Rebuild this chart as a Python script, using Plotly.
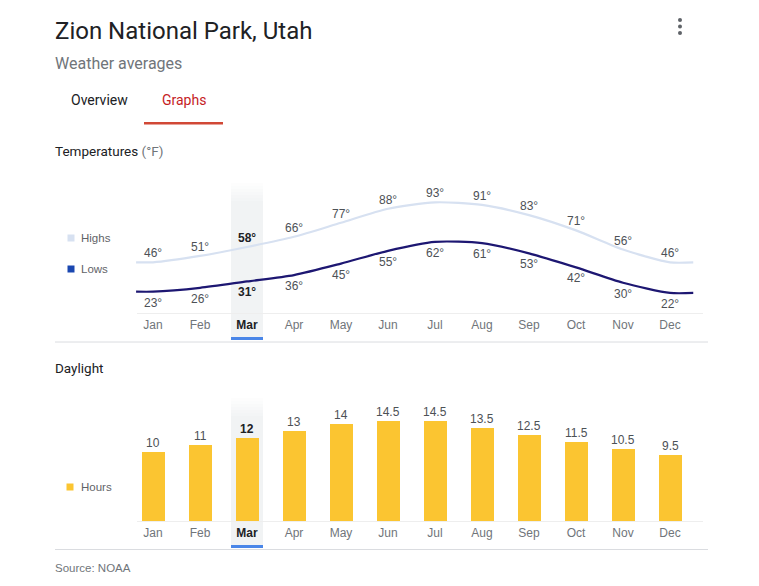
import plotly.graph_objects as go

# ---------------- data ----------------
months = ["Jan", "Feb", "Mar", "Apr", "May", "Jun", "Jul", "Aug", "Sep", "Oct", "Nov", "Dec"]
highs = [46, 51, 58, 66, 77, 88, 93, 91, 83, 71, 56, 46]
lows = [23, 26, 31, 36, 45, 55, 62, 61, 53, 42, 30, 22]
daylight_hours = [10, 11, 12, 13, 14, 14.5, 14.5, 13.5, 12.5, 11.5, 10.5, 9.5]
selected_month = "Mar"

title_text = "Zion National Park, Utah"
subtitle_text = "Weather averages"
tab_labels = ["Overview", "Graphs"]
source_text = "Source: NOAA"

# ---------------- layout helpers ----------------
# page body has an 8px margin; figure fills the rest of the 759x586 window
OFF = 8
W, H = 759 - OFF, 586 - OFF
def px(x):
    return (x - OFF) / W
def py(y):
    return 1 - (y - OFF) / H

FONT = "Roboto, Arial, sans-serif"
LABEL_FONT = "Arial, Liberation Sans, sans-serif"
GRAY = "#70757a"
DARK = "#202124"
VAL = "#4d5156"
HIGH_C = "#d7e1f1"
LOW_C = "#1d1772"
BAR_C = "#fbc531"

xs = list(range(len(months)))
sel = months.index(selected_month)

# x geometry (pixels): month i centred at 153 + 47*i
X_LEFT_PX, X_RIGHT_PX = 129.5, 693.5
x_range = [-0.5, 11.5]

# temperature y: 0 deg at 321px, 1.276 px / deg
T_TOP, T_BOT = 183, 313
t_range = [(321 - T_BOT) / 1.276, (321 - T_TOP) / 1.276]
# daylight y: 0 h at 521px, 6.9 px / h
D_TOP, D_BOT = 400, 521
d_range = [0, (D_BOT - D_TOP) / 6.9]

ticktext = [f"<span style='color:{DARK}'><b>{m}</b></span>" if m == selected_month else m for m in months]

fig = go.Figure()

# line extension beyond first/last month (style only)
ext_l, ext_r = -0.36, 11.5
fig.add_trace(go.Scatter(
    x=[ext_l] + xs + [ext_r], y=[highs[0]] + highs + [highs[-1]],
    mode="lines", line=dict(color=HIGH_C, width=2.2, shape="spline", smoothing=0.7),
    xaxis="x", yaxis="y", hoverinfo="skip", showlegend=False, cliponaxis=False))
fig.add_trace(go.Scatter(
    x=[ext_l] + xs + [ext_r], y=[lows[0]] + lows + [lows[-1]],
    mode="lines", line=dict(color=LOW_C, width=2.2, shape="spline", smoothing=0.7),
    xaxis="x", yaxis="y", hoverinfo="skip", showlegend=False, cliponaxis=False))

fig.add_trace(go.Bar(
    x=xs, y=daylight_hours, width=0.49, marker=dict(color=BAR_C, line=dict(width=0)),
    xaxis="x2", yaxis="y2", hoverinfo="skip", showlegend=False))

annotations = []
for i, (h, l) in enumerate(zip(highs, lows)):
    bold = i == sel
    annotations.append(dict(
        x=i, y=h, xref="x", yref="y", yshift=9, showarrow=False,
        text=f"<b>{h}°</b>" if bold else f"{h}°",
        font=dict(family=LABEL_FONT, size=12, color=DARK if bold else VAL)))
    annotations.append(dict(
        x=i, y=l, xref="x", yref="y", yshift=-11, showarrow=False,
        text=f"<b>{l}°</b>" if bold else f"{l}°",
        font=dict(family=LABEL_FONT, size=12, color=DARK if bold else VAL)))
for i, v in enumerate(daylight_hours):
    bold = i == sel
    t = f"{v:g}"
    annotations.append(dict(
        x=i, y=v, xref="x2", yref="y2", yshift=9, showarrow=False,
        text=f"<b>{t}</b>" if bold else t,
        font=dict(family=LABEL_FONT, size=12, color=DARK if bold else VAL)))

def txt(x, y, s, size, color, family=FONT, **kw):
    annotations.append(dict(x=px(x), y=py(y), xref="paper", yref="paper", text=s,
                            showarrow=False, xanchor="left", yanchor="middle",
                            font=dict(family=family, size=size, color=color), **kw))

txt(53, 31, title_text, 24, DARK)
txt(53, 63, subtitle_text, 16, GRAY)
txt(69, 100, tab_labels[0], 14, DARK)
txt(160, 100, tab_labels[1], 14, "#c5221f")
txt(53, 151, f"Temperatures <span style='color:{GRAY}'>(°F)</span>", 13.5, DARK)
txt(53, 368, "Daylight", 13.5, DARK)
txt(79, 238, "Highs", 11.5, "#5f6368", family=LABEL_FONT)
txt(79, 269, "Lows", 11.5, "#5f6368", family=LABEL_FONT)
txt(79, 487, "Hours", 11.5, "#5f6368", family=LABEL_FONT)
txt(53, 568, source_text, 11.5, GRAY, family=LABEL_FONT)

shapes = []
def rect(x0, y0, x1, y1, color, layer="below", opacity=1):
    shapes.append(dict(type="rect", xref="paper", yref="paper", x0=px(x0), x1=px(x1),
                       y0=py(y1), y1=py(y0), fillcolor=color, line=dict(width=0),
                       layer=layer, opacity=opacity))
def hline(x0, x1, y, color, width=1):
    shapes.append(dict(type="line", xref="paper", yref="paper", x0=px(x0), x1=px(x1),
                       y0=py(y), y1=py(y), line=dict(color=color, width=width), layer="below"))

# highlight band for selected month (x via axis)
def band(axis, top, bottom):
    fade = 18
    steps = 6
    for k in range(steps):
        y0 = top + k * fade / steps
        shapes.append(dict(type="rect", xref=axis, yref="paper", x0=sel - 0.34, x1=sel + 0.34,
                           y0=py(y0 + fade / steps), y1=py(y0), fillcolor="#f1f3f4",
                           line=dict(width=0), layer="below", opacity=(k + 1) / (steps + 1)))
    shapes.append(dict(type="rect", xref=axis, yref="paper", x0=sel - 0.34, x1=sel + 0.34,
                       y0=py(bottom), y1=py(top + fade), fillcolor="#f1f3f4",
                       line=dict(width=0), layer="below"))
    shapes.append(dict(type="rect", xref=axis, yref="paper", x0=sel - 0.34, x1=sel + 0.34,
                       y0=py(bottom + 3), y1=py(bottom), fillcolor="#4a86e8",
                       line=dict(width=0), layer="above"))

band("x", 183, 337)
band("x2", 398, 545)

hline(137, 703, 313.5, "#eeeeee")
hline(137, 703, 521.5, "#eeeeee")
hline(55, 708, 342, "#dadce0")
hline(55, 708, 549.5, "#dadce0")

# tab underline
rect(144, 122, 223, 124.5, "#d14836", layer="above")

# legend squares
rect(67.5, 234.5, 74.5, 241.5, HIGH_C, layer="above")
rect(67.5, 265.5, 74.5, 272.5, "#1a47b0", layer="above")
rect(66.5, 483.5, 73.5, 490.5, BAR_C, layer="above")

# overflow menu dots
for yy in (20, 26.5, 33):
    shapes.append(dict(type="circle", xref="paper", yref="paper",
                       x0=px(678), x1=px(682), y0=py(yy + 2), y1=py(yy - 2),
                       fillcolor="#5f6368", line=dict(width=0), layer="above"))

axis_common = dict(range=x_range, domain=[px(X_LEFT_PX), px(X_RIGHT_PX)], tickmode="array",
                   tickvals=xs, ticktext=ticktext, showgrid=False, zeroline=False, showline=False,
                   ticks="", tickfont=dict(family=LABEL_FONT, size=12, color=GRAY), fixedrange=True)

fig.update_layout(
    width=W, height=H, margin=dict(l=0, r=0, t=0, b=0),
    paper_bgcolor="white", plot_bgcolor="rgba(0,0,0,0)",
    showlegend=False, bargap=0,
    xaxis=dict(anchor="y", ticklabelstandoff=3, **axis_common),
    yaxis=dict(domain=[py(T_BOT), py(T_TOP)], range=t_range, visible=False, fixedrange=True),
    xaxis2=dict(anchor="y2", ticklabelstandoff=3, **axis_common),
    yaxis2=dict(domain=[py(D_BOT), py(D_TOP)], range=d_range, visible=False, fixedrange=True),
    annotations=annotations, shapes=shapes,
)

fig.write_html("out.html")
